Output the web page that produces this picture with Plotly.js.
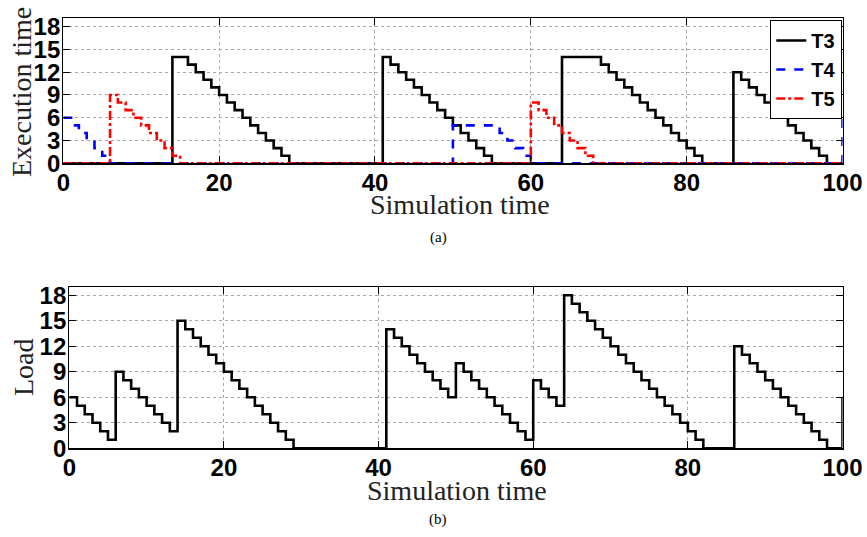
<!DOCTYPE html>
<html>
<head>
<meta charset="utf-8">
<script src="https://cdn.plot.ly/plotly-3.0.1.min.js"></script>
<style>html,body{margin:0;padding:0;background:#fff;}#chart{width:867px;height:537px;}</style>
</head>
<body>
<div id="chart"></div>
<script>
// ---- Data (change points of step functions) ----
const t3Time = [0,14,16,17,18,19,20,21,22,23,24,25,26,27,28,29,41,42,43,44,45,46,47,48,49,50,51,52,53,54,55,64,69,70,71,72,73,74,75,76,77,78,79,80,81,82,86,87,88,89,90,91,92,93,94,95,96,97,98,100];
const t3Exec = [0,14,13,12,11,10,9,8,7,6,5,4,3,2,1,0,14,13,12,11,10,9,8,7,6,5,4,3,2,1,0,14,13,12,11,10,9,8,7,6,5,4,3,2,1,0,12,11,10,9,8,7,6,5,4,3,2,1,0,0];

const t4Time = [0,1,2,3,4,5,6,50,56,57,58,59,60,100];
const t4Exec = [6,5,4,3,2,1,0,5,4,3,2,1,0,6];

const t5Time = [0,6,7,8,9,10,11,12,13,14,15,60,61,62,63,64,65,66,67,68,100];
const t5Exec = [0,9,8,7,6,5,4,3,2,1,0,8,7,6,5,4,3,2,1,0,0];

const loadTime = [0,1,2,3,4,5,6,7,8,9,10,11,12,13,14,15,16,17,18,19,20,21,22,23,24,25,26,27,28,29,41,42,43,44,45,46,47,48,49,50,51,52,53,54,55,56,57,58,59,60,61,62,63,64,65,66,67,68,69,70,71,72,73,74,75,76,77,78,79,80,81,82,86,87,88,89,90,91,92,93,94,95,96,97,98,100];
const loadVal = [6,5,4,3,2,1,9,8,7,6,5,4,3,2,15,14,13,12,11,10,9,8,7,6,5,4,3,2,1,0,14,13,12,11,10,9,8,7,6,10,9,8,7,6,5,4,3,2,1,8,7,6,5,18,17,16,15,14,13,12,11,10,9,8,7,6,5,4,3,2,1,0,12,11,10,9,8,7,6,5,4,3,2,1,0,6];

const xTicks = [0,20,40,60,80,100];
const yTicks = [0,3,6,9,12,15,18];
const seriesNames = ['T3','T4','T5'];
const xTitle = 'Simulation time';
const yTitleTop = 'Execution time';
const yTitleBottom = 'Load';

// ---- Styles ----
const W = 867, H = 537;
const tickFont = {family:'Liberation Sans, Arial, sans-serif', size:24, color:'#000', weight:'bold'};
const titleFont = {family:'Liberation Serif, Times New Roman, serif', size:28, color:'#222'};
const capFont = {family:'Liberation Serif, Times New Roman, serif', size:15, color:'#000'};
const lw = 2.6;

const traces = [
  {x:t3Time, y:t3Exec, name:seriesNames[0], mode:'lines', line:{shape:'hv', color:'#000', width:lw, dash:'solid'}, xaxis:'x', yaxis:'y'},
  {x:t4Time, y:t4Exec, name:seriesNames[1], mode:'lines', line:{shape:'hv', color:'#0000ff', width:lw, dash:'dash'}, xaxis:'x', yaxis:'y'},
  {x:t5Time, y:t5Exec, name:seriesNames[2], mode:'lines', line:{shape:'hv', color:'#ff0000', width:lw, dash:'dashdot'}, xaxis:'x', yaxis:'y'},
  {x:loadTime, y:loadVal, name:'Load', showlegend:false, mode:'lines', line:{shape:'hv', color:'#000', width:lw}, xaxis:'x2', yaxis:'y2'}
];

function axisCommon(){
  return {tickfont:tickFont, showgrid:true, gridcolor:'#a8a8a8', griddash:'dot', gridwidth:1,
    zeroline:false, showline:true, linecolor:'#000', linewidth:1.2, mirror:'ticks',
    ticks:'inside', ticklen:7, tickcolor:'#000'};
}
function xAxis(domain, anchor){
  return Object.assign(axisCommon(), {domain:domain, anchor:anchor, range:[0,100], tickvals:xTicks, ticktext:xTicks.map(String), ticklabelstandoff:-2});
}
function yAxis(domain, anchor, range){
  return Object.assign(axisCommon(), {domain:domain, anchor:anchor, range:range, tickvals:yTicks, ticktext:yTicks.map(String), ticklabelstandoff:-3});
}
function px(x){return x/W;}
function py(y){return (H-y)/H;}

const layout = {
  width:W, height:H,
  margin:{l:0,r:0,t:0,b:0},
  paper_bgcolor:'#fff', plot_bgcolor:'#fff',
  showlegend:true,
  legend:{x:0.9715, y:py(20), xanchor:'right', yanchor:'top', bgcolor:'#fff', bordercolor:'#000', borderwidth:1,
    font:{family:'Liberation Sans, Arial, sans-serif', size:20, color:'#000', weight:'bold'}, itemwidth:30, tracegroupgap:0},
  xaxis: xAxis([px(63.3),px(842.5)],'y'),
  yaxis: yAxis([py(163.3),py(18.3)],'x',[0,19.1]),
  xaxis2: xAxis([px(69.3),px(842.5)],'y2'),
  yaxis2: yAxis([py(448.3),py(286.7)],'x2',[0,19]),
  annotations:[
    {text:xTitle, xref:'paper', yref:'paper', x:px(460), y:py(204), showarrow:false, xanchor:'center', yanchor:'middle', borderpad:0, font:titleFont},
    {text:xTitle, xref:'paper', yref:'paper', x:px(457), y:py(490), showarrow:false, xanchor:'center', yanchor:'middle', borderpad:0, font:titleFont},
    {text:yTitleTop, xref:'paper', yref:'paper', x:px(21), y:py(92), showarrow:false, textangle:-90, xanchor:'center', yanchor:'middle', borderpad:0, font:titleFont},
    {text:yTitleBottom, xref:'paper', yref:'paper', x:px(23), y:py(367), showarrow:false, textangle:-90, xanchor:'center', yanchor:'middle', borderpad:0, font:titleFont},
    {text:'(a)', xref:'paper', yref:'paper', x:px(438), y:py(237), showarrow:false, xanchor:'center', yanchor:'middle', font:capFont},
    {text:'(b)', xref:'paper', yref:'paper', x:px(438), y:py(519), showarrow:false, xanchor:'center', yanchor:'middle', font:capFont}
  ]
};

Plotly.newPlot('chart', traces, layout, {displayModeBar:false, staticPlot:true});
</script>
</body>
</html>
